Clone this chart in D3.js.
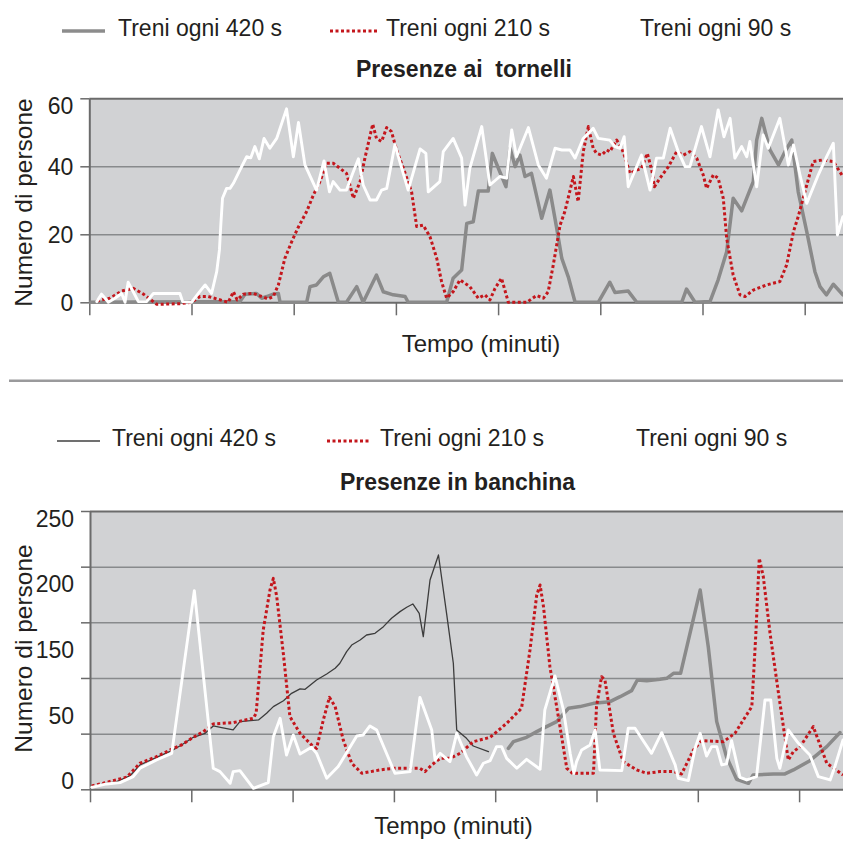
<!DOCTYPE html>
<html>
<head>
<meta charset="utf-8">
<script src="https://cdn.jsdelivr.net/npm/d3@7"></script>
<style>
  body { margin: 0; background: #fff; }
  svg { display: block; }
  text { font-family: "Liberation Sans", Arial, sans-serif; fill: #231f20; }
</style>
</head>
<body>
<svg id="chart" width="843" height="841"></svg>
<script>
// ---- labels ----
const seriesLabels = ["Treni ogni 420 s", "Treni ogni 210 s", "Treni ogni 90 s"];
const xTickMinutes = [0, 3, 6, 9, 12, 15, 18, 21];
const tornelliYTicks = [0, 20, 40, 60];
const banchinaYTicks = [0, 50, 100, 150, 200, 250];
const banchinaYLabels = ["250", "200", "150", "50", "0"];

// ---- Presenze ai tornelli: [minuto, persone] ----
const tornelli420 = [
  [0,0],[4.42,0.2],[4.57,2.4],[4.91,2.6],[5.06,1.2],[5.21,1.7],[5.40,2.4],[5.55,2.6],[5.60,0],[6.38,0],
  [6.48,4.6],[6.67,5.1],[6.87,7.5],[7.06,8.5],[7.31,0],[7.55,0],[7.85,4.6],[8.04,0],[8.43,8.0],[8.63,3.1],
  [8.92,2.2],[9.27,1.7],[9.36,0],[10.49,0],[10.68,7.1],[10.93,9.5],[11.08,23.2],[11.27,23.7],[11.42,32.7],
  [11.71,32.7],[11.83,43.8],[12.05,38.4],[12.23,34.0],[12.35,45.3],[12.50,39.9],[12.64,43.3],[12.79,37.0],
  [12.98,37.9],[13.28,24.7],[13.52,33.0],[13.72,21.8],[13.87,12.9],[14.06,7.5],[14.26,0],[14.94,0],
  [15.28,5.9],[15.43,2.9],[15.82,3.3],[16.07,0],[17.39,0],[17.53,3.9],[17.78,0],[18.22,0.2],[18.46,6.6],
  [18.71,14.9],[18.90,30.6],[19.15,26.9],[19.49,35.5],[19.59,47.7],[19.74,54.1],[19.98,44.8],[20.23,40.4],
  [20.42,44.3],[20.62,47.7],[20.81,32.5],[21.06,20.8],[21.30,9.0],[21.45,4.6],[21.64,2.2],[21.84,5.3],[22.12,2.2]
];
const tornelli210 = [
  [0.22,0.4],[0.61,1.2],[0.95,3.3],[1.29,4.1],[1.59,2.4],[1.98,-0.6],[2.66,-0.4],[3.00,0],[3.25,1.7],[3.49,1.7],
  [3.74,1.0],[4.08,0],[4.23,3.1],[4.34,0.7],[4.52,2.4],[4.81,2.6],[5.06,1.7],[5.25,1.0],[5.40,1.7],[5.55,5.1],
  [5.74,12.9],[5.94,17.8],[6.12,21.8],[6.38,26.7],[6.58,31.6],[6.77,35.5],[6.97,40.9],[7.16,40.9],[7.36,39.4],
  [7.55,37.9],[7.65,34.5],[7.75,30.6],[7.95,35.5],[8.09,42.4],[8.32,52.4],[8.43,48.2],[8.58,47.3],[8.73,51.4],
  [8.87,50.2],[9.02,44.8],[9.22,39.4],[9.46,32.5],[9.61,22.3],[9.80,22.7],[10.00,19.3],[10.20,12.9],[10.34,6.1],
  [10.49,1.2],[10.68,3.1],[10.88,6.6],[11.17,4.6],[11.42,1.2],[11.61,2.2],[11.76,0.7],[11.91,4.1],[12.10,7.1],
  [12.30,0],[12.84,0],[13.13,2.0],[13.33,1.2],[13.47,3.1],[13.62,11.0],[13.82,22.7],[13.96,26.7],[14.21,37.0],
  [14.35,29.6],[14.50,44.3],[14.65,51.7],[14.79,45.3],[14.89,43.8],[15.04,43.3],[15.19,44.8],[15.28,44.3],
  [15.48,47.7],[15.63,45.3],[15.72,42.8],[15.87,37.9],[16.07,38.9],[16.21,39.4],[16.38,43.8],[16.51,38.9],
  [16.59,34.0],[16.75,36.5],[17.00,39.9],[17.24,44.3],[17.44,43.3],[17.63,44.3],[17.83,42.4],[18.02,37.5],
  [18.12,33.5],[18.32,37.5],[18.46,36.5],[18.61,30.6],[18.71,18.8],[18.90,8.0],[19.10,2.2],[19.25,1.7],
  [19.49,3.6],[19.88,5.1],[20.27,6.1],[20.47,11.0],[20.67,20.8],[20.81,25.2],[21.06,34.5],[21.25,41.4],
  [21.55,41.9],[21.84,41.4],[22.12,37.0]
];
const tornelli90 = [
  [0.22,0.2],[0.36,2.4],[0.56,0],[0.75,1.2],[0.95,2.6],[1.05,0],[1.14,5.9],[1.29,3.1],[1.44,0.2],[1.68,0.2],
  [1.88,2.6],[2.66,2.6],[2.74,0.2],[3.00,0],[3.20,2.6],[3.40,5.1],[3.59,2.6],[3.74,9.0],[3.82,15.4],[3.86,22.7],
  [3.91,30.6],[4.03,33.5],[4.13,33.5],[4.23,35.0],[4.42,38.9],[4.62,42.8],[4.74,42.5],[4.86,45.8],[4.99,42.2],
  [5.13,48.2],[5.30,45.3],[5.50,48.2],[5.79,56.9],[5.99,42.8],[6.14,52.9],[6.33,40.4],[6.67,33.0],[6.89,41.6],
  [7.05,32.5],[7.16,35.5],[7.36,33.0],[7.55,33.0],[7.73,37.9],[7.90,42.2],[8.04,34.5],[8.24,30.1],[8.43,30.1],
  [8.58,33.0],[8.73,33.5],[8.97,46.3],[9.36,33.0],[9.71,45.1],[9.88,43.8],[9.95,32.5],[10.29,35.5],[10.39,44.3],
  [10.68,48.2],[10.93,42.4],[11.03,28.6],[11.17,39.4],[11.52,51.7],[11.76,34.5],[12.05,37.0],[12.25,36.5],
  [12.40,50.7],[12.54,42.8],[12.89,51.4],[13.18,40.4],[13.42,36.5],[13.67,45.3],[13.87,44.8],[14.11,44.8],
  [14.26,42.4],[14.50,48.2],[14.79,51.2],[14.94,48.2],[15.28,47.7],[15.43,45.8],[15.58,45.3],[15.70,48.7],
  [15.82,34.0],[16.21,43.3],[16.46,33.0],[16.65,42.4],[16.85,42.4],[17.05,51.2],[17.29,44.3],[17.49,39.9],
  [17.63,39.9],[17.97,51.7],[18.22,42.8],[18.46,56.6],[18.63,48.7],[18.81,54.1],[18.95,42.4],[19.15,45.8],
  [19.30,42.8],[19.39,47.3],[19.59,34.0],[19.78,49.2],[19.93,45.3],[20.27,54.1],[20.52,40.4],[20.67,46.3],
  [20.86,37.5],[21.06,29.1],[21.40,37.5],[21.64,42.8],[21.84,46.8],[21.96,19.8],[22.12,25.2]
];

// ---- Presenze in banchina: [minuto, persone] ----
const banchina420a = [
  [0.05,1.8],[0.39,4.8],[0.79,6.9],[1.18,12.0],[1.48,21.9],[1.97,28.7],[2.42,34.7],[2.71,39.8],[3.06,46.7],
  [3.41,50.3],[3.65,56.9],[3.90,55.4],[4.24,53.3],[4.44,60.8],[4.99,62.3],[5.23,68.3],[5.43,74.3],[5.73,79.6],
  [5.97,86.2],[6.22,90.2],[6.37,89.8],[6.71,98.2],[7.01,103.6],[7.26,108.7],[7.40,113.2],[7.60,123.7],
  [7.75,129.6],[8.00,134.1],[8.19,138.6],[8.44,140.1],[8.69,146.1],[8.93,153.6],[9.18,159.6],[9.38,163.5],
  [9.56,166.5],[9.75,158.1],[9.87,137.1],[10.07,188.0],[10.32,210.5],[10.56,158.1],[10.76,113.2],[10.86,53.3],
  [11.15,45.8],[11.35,38.9],[11.80,33.8]
];
const banchina420b = [
  [12.39,36.8],[12.54,42.8],[12.93,46.7],[13.23,51.8],[13.52,56.3],[13.82,60.8],[14.17,72.8],[14.51,74.3],
  [14.91,77.2],[15.40,78.7],[15.70,83.2],[16.04,88.6],[16.21,98.2],[16.49,97.6],[16.88,98.8],[17.08,99.7],
  [17.28,104.2],[17.49,104.2],[18.07,179.0],[18.31,128.1],[18.56,60.8],[18.85,29.3],[19.15,9.0],[19.50,5.4],
  [19.64,12.9],[20.24,13.8],[20.58,13.8],[20.83,17.4],[21.32,25.7],[21.82,38.3],[22.21,50.9]
];
const banchina210 = [
  [0.05,3.0],[0.39,5.4],[0.84,9.0],[1.09,10.8],[1.48,23.4],[1.97,29.3],[2.47,36.8],[2.71,39.8],[3.01,45.8],
  [3.36,51.8],[3.65,58.7],[4.24,59.9],[4.84,63.8],[4.92,68.3],[5.13,143.1],[5.33,179.0],[5.43,189.5],
  [5.53,173.1],[5.73,120.7],[5.92,65.3],[6.22,50.3],[6.61,38.3],[6.71,36.8],[6.91,62.3],[7.09,82.6],
  [7.26,74.3],[7.50,44.3],[7.75,23.4],[8.05,14.4],[8.59,17.4],[8.98,18.9],[9.77,18.9],[9.92,15.9],
  [10.12,21.9],[10.37,27.8],[10.66,27.8],[10.96,32.3],[11.35,42.8],[11.85,46.7],[12.34,59.3],[12.78,72.8],
  [13.03,125.1],[13.23,174.6],[13.33,183.5],[13.43,164.1],[13.62,110.2],[13.87,65.3],[14.12,18.9],
  [14.31,13.8],[14.41,14.4],[14.91,14.4],[15.00,74.3],[15.15,101.2],[15.25,98.2],[15.50,50.3],[15.79,24.9],
  [16.19,17.4],[16.49,14.4],[16.88,15.9],[17.28,15.9],[17.52,13.8],[17.87,35.3],[18.11,43.7],[18.76,42.8],
  [19.10,50.3],[19.60,74.3],[19.72,140.1],[19.82,207.5],[19.94,191.0],[20.14,140.1],[20.39,86.2],
  [20.68,26.3],[20.83,33.8],[21.03,38.3],[21.42,56.3],[21.82,23.4],[22.30,12.9]
];
const banchina90 = [
  [0.05,1.8],[0.49,4.8],[0.89,6.0],[1.28,11.4],[1.48,18.9],[1.97,26.3],[2.42,32.3],[3.09,178.4],[3.65,18.9],
  [3.85,15.9],[4.15,5.4],[4.24,15.9],[4.44,16.8],[4.84,0.9],[5.28,6.0],[5.43,47.3],[5.63,63.8],[5.82,30.8],
  [6.02,48.8],[6.22,31.7],[6.56,37.7],[6.71,32.3],[7.01,9.9],[7.35,20.4],[7.90,47.9],[8.09,48.8],[8.29,56.9],
  [8.49,53.3],[9.03,14.4],[9.48,15.9],[9.77,82.6],[10.12,53.3],[10.22,26.3],[10.37,32.3],[10.66,24.9],
  [10.86,50.3],[11.15,29.3],[11.45,12.9],[11.65,23.4],[11.85,25.7],[12.04,38.3],[12.19,38.3],[12.34,27.8],
  [12.64,18.9],[12.93,26.9],[13.33,18.0],[13.47,71.3],[13.77,101.8],[14.02,71.3],[14.22,32.3],[14.33,14.4],
  [14.41,24.9],[14.56,35.3],[14.81,39.8],[14.96,53.3],[15.10,17.4],[15.75,16.8],[15.94,54.8],[16.14,54.8],
  [16.63,32.3],[16.93,50.9],[17.33,21.9],[17.42,9.9],[17.72,7.8],[17.92,36.8],[18.07,50.3],[18.26,29.9],
  [18.41,38.3],[18.56,38.3],[18.71,21.9],[18.85,22.8],[19.00,43.7],[19.25,10.8],[19.45,8.4],[19.74,11.4],
  [19.99,80.2],[20.16,80.2],[20.34,27.8],[20.43,18.9],[20.68,53.3],[20.98,41.3],[21.32,30.8],[21.57,11.4],
  [21.92,8.4],[22.06,20.4],[22.30,44.3]
];

// ---- styling ----
const W = 843;
const C = {
  plot: "#d1d2d4", grid: "#888a8c", axis: "#6b6b6b",
  s420: "#8a8a8a", s420thin: "#3c3c3c", s210: "#c4161c", s90: "#ffffff"
};

const svg = d3.select("#chart");

function drawPanel(cfg) {
  const x = d3.scaleLinear().domain([0, 3]).range([cfg.left, cfg.left + cfg.pxPer3Min]);
  const y = d3.scaleLinear().domain([0, cfg.yMax]).range([cfg.bottom, cfg.top]);
  const g = svg.append("g");

  // plot background
  g.append("rect")
    .attr("x", cfg.left).attr("y", cfg.top)
    .attr("width", W - cfg.left).attr("height", cfg.bottom - cfg.top)
    .attr("fill", C.plot);

  // horizontal grid
  const grid = g.append("g")
    .attr("transform", `translate(${cfg.left},0)`)
    .call(d3.axisLeft(y).tickValues(cfg.yTicks).tickSize(-(W - cfg.left)).tickFormat(""));
  grid.select(".domain").remove();
  grid.selectAll(".tick line")
    .attr("stroke", d => (d === 0 || d === cfg.yMax) ? C.axis : C.grid)
    .attr("stroke-width", d => (d === 0 || d === cfg.yMax) ? 2 : 1.5);

  // x ticks (no labels)
  const xa = g.append("g")
    .attr("transform", `translate(0,${cfg.bottom})`)
    .call(d3.axisBottom(x).tickValues(xTickMinutes).tickSize(13).tickFormat(""));
  xa.select(".domain").remove();
  xa.selectAll(".tick line").attr("stroke", C.axis).attr("stroke-width", 1.5);

  // y axis with outer ticks
  const ya = g.append("g")
    .attr("transform", `translate(${cfg.left},0)`)
    .call(d3.axisLeft(y).tickValues(cfg.yTicks).tickSize(9).tickSizeOuter(0)
      .tickFormat(cfg.yLabels ? "" : d3.format("d")));
  ya.select(".domain").attr("stroke", C.axis).attr("stroke-width", 2);
  ya.selectAll(".tick line").attr("stroke", C.axis).attr("stroke-width", 1.5);
  ya.selectAll(".tick text")
    .attr("x", -16)
    .attr("font-size", 23)
    .attr("font-family", "'Liberation Sans', Arial, sans-serif")
    .attr("fill", "#231f20")
    .attr("dy", d => d === cfg.yMax ? "0.66em" : "0.36em");

  if (cfg.yLabels) {
    const ly = d3.scalePoint().domain(cfg.yLabels).range(cfg.labelSpan);
    g.append("g").selectAll("text").data(cfg.yLabels).join("text")
      .attr("x", cfg.left - 16).attr("y", d => ly(d))
      .attr("dy", "0.36em").attr("text-anchor", "end")
      .attr("font-size", 23).text(d => d);
  }

  // series
  const clipId = "clip-" + cfg.id;
  svg.append("clipPath").attr("id", clipId).append("rect")
    .attr("x", cfg.left).attr("y", cfg.top - 30)
    .attr("width", W - cfg.left).attr("height", cfg.bottom - cfg.top + 60);
  const line = d3.line().x(d => x(d[0])).y(d => y(d[1]));
  const lines = g.append("g").attr("clip-path", `url(#${clipId})`).attr("fill", "none")
    .attr("stroke-linejoin", "round");
  cfg.series.forEach(s => {
    lines.append("path").datum(s.data)
      .attr("d", line)
      .attr("stroke", s.color)
      .attr("stroke-width", s.width)
      .attr("stroke-dasharray", s.dash || null)
      .attr("stroke-linecap", s.dash ? "butt" : "round");
  });

  // legend
  const lg = g.append("g");
  cfg.legend.forEach((it, i) => {
    if (it.x1 != null) {
      lg.append("line")
        .attr("x1", it.x1).attr("x2", it.x2)
        .attr("y1", cfg.legendLineY).attr("y2", cfg.legendLineY)
        .attr("stroke", it.color).attr("stroke-width", it.width)
        .attr("stroke-dasharray", it.dash || null);
    }
    lg.append("text")
      .attr("x", it.tx).attr("y", cfg.legendBaseline)
      .attr("font-size", 23).text(seriesLabels[i]);
  });

  // title
  g.append("text")
    .attr("x", cfg.titleX).attr("y", cfg.titleY)
    .attr("text-anchor", "middle").attr("font-size", 23).attr("font-weight", "bold")
    .style("white-space", "pre")
    .text(cfg.title);

  // axis titles
  g.append("text")
    .attr("transform", `translate(${cfg.yTitleX},${cfg.yTitleY}) rotate(-90)`)
    .attr("text-anchor", "middle").attr("font-size", 24.5)
    .text("Numero di persone");
  g.append("text")
    .attr("x", cfg.xTitleX).attr("y", cfg.xTitleY)
    .attr("text-anchor", "middle").attr("font-size", 24)
    .text("Tempo (minuti)");
}

drawPanel({
  id: "tornelli",
  left: 89.3, pxPer3Min: 102.2, top: 98.3, bottom: 302.3,
  yMax: 60, yTicks: tornelliYTicks,
  series: [
    { data: tornelli420, color: C.s420, width: 3.5 },
    { data: tornelli210, color: C.s210, width: 3, dash: "3,2.5" },
    { data: tornelli90, color: C.s90, width: 2.9 }
  ],
  legendLineY: 31, legendBaseline: 35.5,
  legend: [
    { x1: 62, x2: 105, tx: 118, color: "#8c8c8c", width: 3.5 },
    { x1: 330, x2: 378, tx: 386, color: C.s210, width: 3, dash: "3,2.5" },
    { tx: 640 }
  ],
  title: "Presenze ai  tornelli", titleX: 464, titleY: 76.7,
  yTitleX: 32, yTitleY: 202.5,
  xTitleX: 481, xTitleY: 351.7
});

// separator between the two panels
svg.append("line")
  .attr("x1", 9).attr("x2", W).attr("y1", 380.7).attr("y2", 380.7)
  .attr("stroke", "#9a9a9c").attr("stroke-width", 2.5);

drawPanel({
  id: "banchina",
  left: 90, pxPer3Min: 101.3, top: 511, bottom: 789.3,
  yMax: 250, yTicks: banchinaYTicks,
  yLabels: banchinaYLabels, labelSpan: [518.5, 781],
  series: [
    { data: banchina420a, color: C.s420thin, width: 1.3 },
    { data: banchina420b, color: C.s420, width: 3.5 },
    { data: banchina210, color: C.s210, width: 3, dash: "3,2.5" },
    { data: banchina90, color: C.s90, width: 2.9 }
  ],
  legendLineY: 441, legendBaseline: 445.5,
  legend: [
    { x1: 57, x2: 100, tx: 112, color: "#707070", width: 2 },
    { x1: 327, x2: 371, tx: 380, color: C.s210, width: 3, dash: "3,2.5" },
    { tx: 636 }
  ],
  title: "Presenze in banchina", titleX: 457.5, titleY: 489.5,
  yTitleX: 32, yTitleY: 648.5,
  xTitleX: 453.5, xTitleY: 834
});
</script>
</body>
</html>
